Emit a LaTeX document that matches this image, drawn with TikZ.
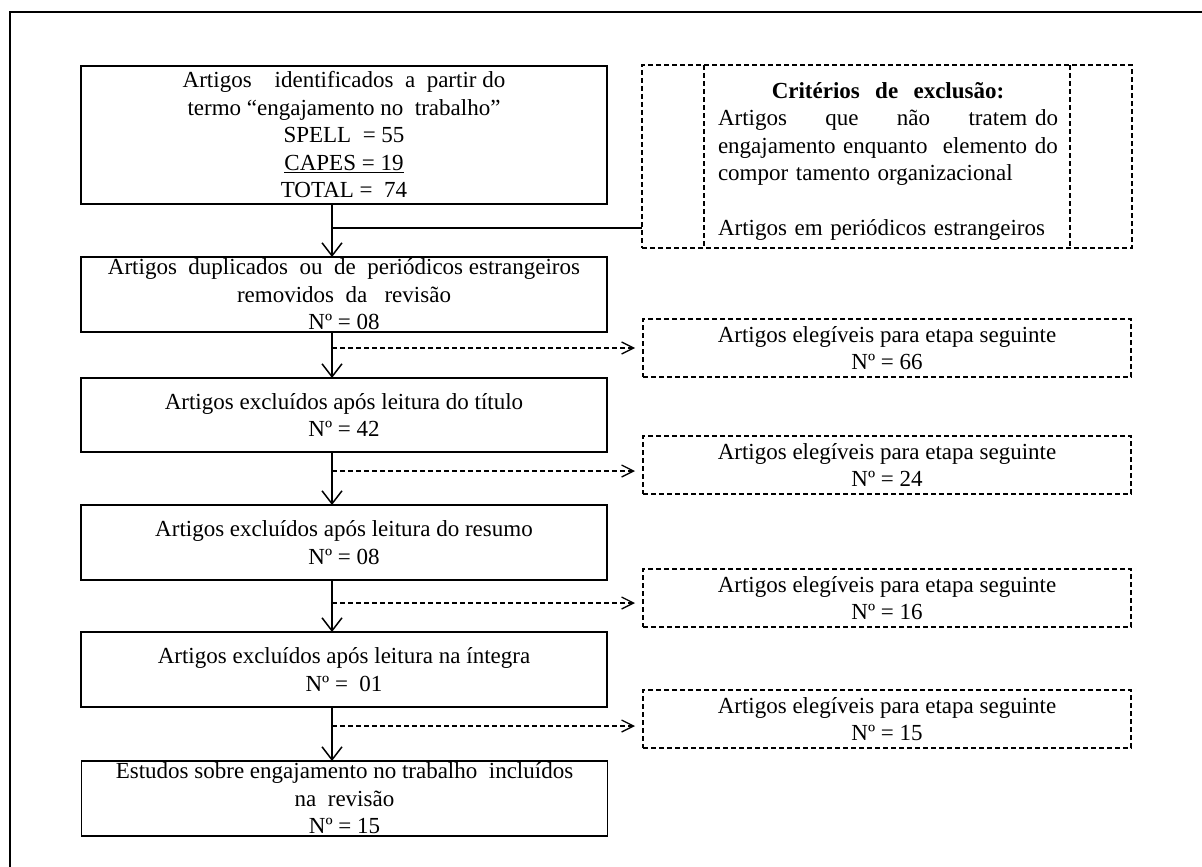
\documentclass[tikz,border=0pt]{standalone}
\usepackage{fontspec}
\setmainfont{Liberation Serif}
\usetikzlibrary{arrows.meta}
\begin{document}
\begin{tikzpicture}[x=1pt,y=-1pt,
  every node/.style={font=\fontsize{23}{27.5}\selectfont, inner sep=0pt, outer sep=0pt},
  mainbox/.style={draw, line width=1.6pt, minimum width=526pt, align=center},
  eligbox/.style={draw, line width=1.3pt, dash pattern=on 5pt off 3pt, minimum width=488pt, minimum height=58pt, align=center},
  flow/.style={line width=1.5pt, -{Straight Barb[length=13pt,width=20pt]}},
  dasharrow/.style={line width=1.3pt, dash pattern=on 5pt off 3pt, -{Straight Barb[length=12pt,width=12pt]}, shorten >=8pt},
  dashline/.style={line width=1.3pt, dash pattern=on 5pt off 3pt},
  plain/.style={line width=1.5pt}]
\useasboundingbox (0,0) rectangle (1202,867);
% outer frame (only left and top edges visible)
\draw[plain] (10,867) -- (10,12) -- (1202,12);

% main column
\node[mainbox, minimum height=138pt] (b1) at (344,135)
  {Artigos\quad identificados\ \ a\ \ partir do\\ termo\ “engajamento no\ \ trabalho”\\ SPELL\ \ = 55\\ \underline{CAPES = 19}\\ TOTAL = \ 74};
\node[mainbox, minimum height=75pt] (b2) at (344,294.5)
  {Artigos\ \ duplicados\ \ ou\ \ de\ \ periódicos estrangeiros\\ removidos\ \ da\ \ \ revisão\\ Nº = 08};
\node[mainbox, minimum height=74pt] (b3) at (344,415)
  {Artigos excluídos após leitura do título\\ Nº = 42};
\node[mainbox, minimum height=75pt] (b4) at (344,542.5)
  {Artigos excluídos após leitura do resumo\\ Nº = 08};
\node[mainbox, minimum height=75pt] (b5) at (344,669.5)
  {Artigos excluídos após leitura na íntegra\\ Nº = \ 01};
\node[mainbox, minimum height=75pt] (b6) at (344.5,798.5)
  {Estudos sobre engajamento no trabalho\ \ incluídos\\ na\ \ revisão\\ Nº = 15};

% eligible boxes
\node[eligbox] (e1) at (887,348) {Artigos elegíveis para etapa seguinte\\ Nº = 66};
\node[eligbox] (e2) at (887,465) {Artigos elegíveis para etapa seguinte\\ Nº = 24};
\node[eligbox] (e3) at (887,598) {Artigos elegíveis para etapa seguinte\\ Nº = 16};
\node[eligbox] (e4) at (887,719) {Artigos elegíveis para etapa seguinte\\ Nº = 15};

% exclusion criteria box
\node[eligbox, minimum width=490pt, minimum height=183pt] (crit) at (887,156.5) {};
\draw[dashline] ([xshift=-183pt]crit.north) -- ([xshift=-183pt]crit.south);
\draw[dashline] ([xshift=183pt]crit.north) -- ([xshift=183pt]crit.south);
\node[text width=340pt, align=left, anchor=north] (crittext) at (888,82)
  {\makebox[340pt]{\textbf{Critérios\ \ de\ \ exclusão:}}\\
   \makebox[340pt][s]{Artigos\hfill que\hfill não\hfill tratem do}\\
   \makebox[340pt][s]{engajamento enquanto\ \ elemento do}\\
   compor tamento organizacional\\
   \mbox{}\\
   \makebox[340pt][s]{Artigos em periódicos estrangeiros}};

% connectors
\coordinate (ax) at (332,0);
\draw[flow] (b1.south -| ax) -- (b2.north -| ax);
\draw[flow] (b2.south -| ax) -- (b3.north -| ax);
\draw[flow] (b3.south -| ax) -- (b4.north -| ax);
\draw[flow] (b4.south -| ax) -- (b5.north -| ax);
\draw[flow] (b5.south -| ax) -- (b6.north -| ax);
\coordinate (j0) at (332,228);
\draw[plain] (j0) -- (j0 -| crit.west);
\draw[dasharrow] (e1.west -| ax) -- (e1.west);
\draw[dasharrow] ([yshift=-6pt]e2.west -| ax) -- ([yshift=-6pt]e2.west);
\draw[dasharrow] ([yshift=-5pt]e3.west -| ax) -- ([yshift=-5pt]e3.west);
\draw[dasharrow] ([yshift=-7pt]e4.west -| ax) -- ([yshift=-7pt]e4.west);
\end{tikzpicture}
\end{document}
